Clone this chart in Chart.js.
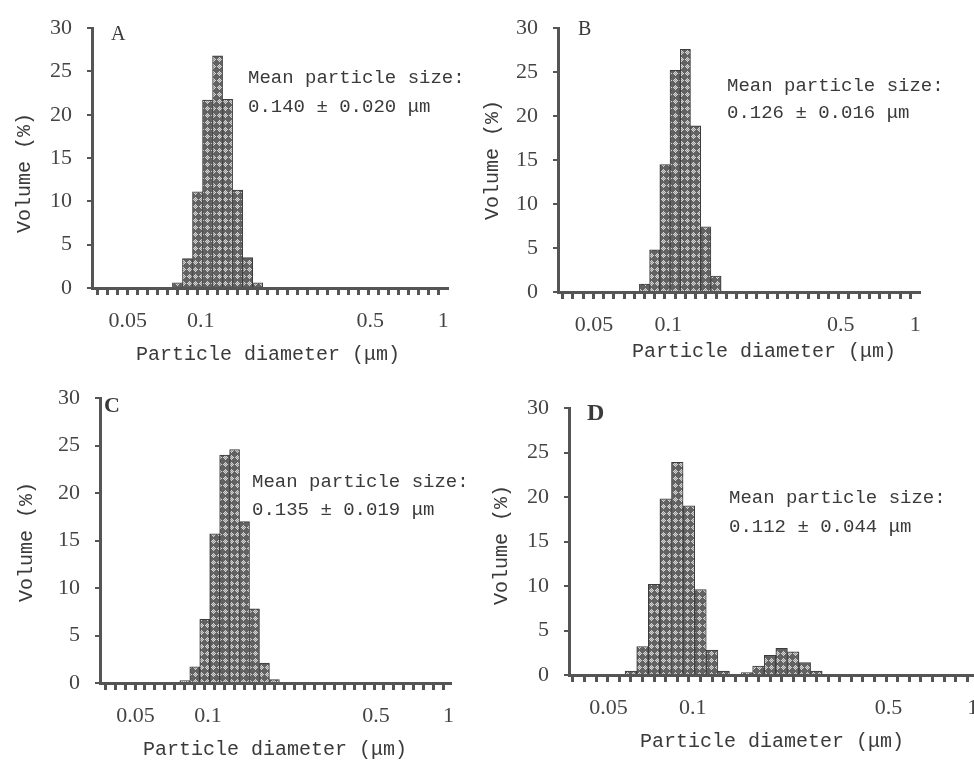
<!DOCTYPE html>
<html>
<head>
<meta charset="utf-8">
<script src="https://cdn.jsdelivr.net/npm/chart.js@4.4.1/dist/chart.umd.min.js"></script>
<style>
  html, body { margin: 0; padding: 0; background: #fff; overflow: hidden; width: 974px; height: 763px; }
  canvas { position: absolute; }
</style>
</head>
<body>
<canvas id="chartA" width="480" height="370" style="left:0;top:0"></canvas>
<canvas id="chartB" width="494" height="370" style="left:480px;top:0"></canvas>
<canvas id="chartC" width="480" height="393" style="left:0;top:370px"></canvas>
<canvas id="chartD" width="520" height="393" style="left:480px;top:370px"></canvas>
<script>
// bin centres of the size classes (um)
const binCenters = [0.06018, 0.06620, 0.07282, 0.0801, 0.08811, 0.09692, 0.10661, 0.11727,
                    0.12900, 0.14190, 0.15609, 0.17170, 0.18887, 0.20776, 0.22853, 0.25139, 0.27653];

// volume (%) per bin
const volA = [0, 0, 0, 0.6, 3.4, 11.1, 21.7, 26.8, 21.8, 11.3, 3.5, 0.6, 0, 0, 0, 0, 0];
const volB = [0, 0, 0, 0.9, 4.8, 14.5, 25.2, 27.6, 18.9, 7.4, 1.8, 0, 0, 0, 0, 0, 0];
const volC = [0, 0, 0, 0.25, 1.7, 6.7, 15.7, 24.0, 24.6, 17.0, 7.8, 2.1, 0.35, 0, 0, 0, 0];
const volD = [0.45, 3.2, 10.2, 19.8, 23.9, 19.0, 9.6, 2.8, 0.45, 0, 0.26, 1.0, 2.2, 3.0, 2.6, 1.4, 0.45];

const xTickLabels = [0.05, 0.1, 0.5, 1];
const yTickStep = 5;
const yMax = 30;

const letters = ['A', 'B', 'C', 'D'];
const meanText = ['0.140 ± 0.020 μm', '0.126 ± 0.016 μm', '0.135 ± 0.019 μm', '0.112 ± 0.044 μm'];
const meanLabel = 'Mean particle size:';
const xTitle = 'Particle diameter (μm)';
const yTitle = 'Volume (%)';

const INK = '#444';

// fill pattern of the bars: light diamonds on dark grey
function makePattern() {
  const c = document.createElement('canvas');
  c.width = 6; c.height = 7;
  const g = c.getContext('2d');
  g.fillStyle = '#626262';
  g.fillRect(0, 0, 6, 7);
  g.fillStyle = '#d4d4d4';
  [[3,1],[2,2],[4,2],[1,3],[5,3],[2,4],[4,4],[3,5],[3,3]].forEach(p => g.fillRect(p[0], p[1], 1, 1));
  g.fillStyle = '#9a9a9a';
  [[3,2],[2,3],[4,3],[3,4]].forEach(p => g.fillRect(p[0], p[1], 1, 1));
  return g.createPattern(c, 'repeat');
}
const hatch = makePattern();

const textPlugin = {
  id: 'panelText',
  afterDraw(chart, args, o) {
    const ctx = chart.ctx;
    ctx.save();
    ctx.fillStyle = '#3a3a3a';
    ctx.textBaseline = 'alphabetic';
    ctx.textAlign = 'left';
    ctx.font = o.letterFont;
    ctx.fillText(o.letter, o.letterX, o.letterY);
    ctx.font = '19px "Liberation Mono", monospace';
    ctx.fillText(meanLabel, o.noteX, o.noteY1);
    ctx.fillText(o.mean, o.noteX, o.noteY2);
    ctx.font = '20px "Liberation Mono", monospace';
    ctx.textAlign = 'center';
    ctx.textBaseline = 'middle';
    ctx.fillText(xTitle, o.xtX, o.xtY);
    ctx.translate(o.ytX, o.ytY);
    ctx.rotate(-Math.PI / 2);
    ctx.fillText(yTitle, 0, 0);
    ctx.restore();
  }
};

const panels = [
  { id: 'chartA', values: volA, xmin: 0.03557, xmax: 1.037,
    pad: { left: 47, right: 33, top: 25, bottom: 29 },
    letterFont: '20px "Liberation Serif", serif', letterX: 111, letterY: 40,
    noteX: 248, noteY1: 83, noteY2: 112, xtX: 268, xtY: 355, ytX: 25, ytY: 173 },
  { id: 'chartB', values: volB, xmin: 0.03575, xmax: 1.0365,
    pad: { left: 33, right: 55, top: 23, bottom: 25 },
    letterFont: '20px "Liberation Serif", serif', letterX: 98, letterY: 35,
    noteX: 247, noteY1: 91, noteY2: 118, xtX: 284, xtY: 352, ytX: 13, ytY: 160 },
  { id: 'chartC', values: volC, xmin: 0.03556, xmax: 1.0145,
    pad: { left: 55, right: 30, top: 24, bottom: 27 },
    letterFont: 'bold 22px "Liberation Serif", serif', letterX: 104, letterY: 42,
    noteX: 252, noteY1: 117, noteY2: 145, xtX: 275, xtY: 380, ytX: 27, ytY: 172 },
  { id: 'chartD', values: volD, xmin: 0.03617, xmax: 1.191,
    pad: { left: 44, right: 6, top: 38, bottom: 35 },
    letterFont: 'bold 24px "Liberation Serif", serif', letterX: 107, letterY: 50,
    noteX: 249, noteY1: 133, noteY2: 162, xtX: 292, xtY: 372, ytX: 22, ytY: 175 }
];

panels.forEach((p, i) => {
  new Chart(document.getElementById(p.id), {
    type: 'bar',
    data: {
      datasets: [{
        data: binCenters.map((c, k) => ({ x: c, y: p.values[k] })),
        backgroundColor: hatch,
        borderColor: '#3c3c3c',
        borderWidth: 1,
        borderSkipped: 'bottom',
        barPercentage: 1,
        categoryPercentage: 1,
        xAxisID: 'x'
      }]
    },
    options: {
      responsive: false,
      animation: false,
      devicePixelRatio: 1,
      layout: { padding: p.pad },
      plugins: {
        legend: { display: false },
        tooltip: { enabled: false },
        panelText: Object.assign({ letter: letters[i], mean: meanText[i] }, p)
      },
      scales: {
        xm: {
          type: 'logarithmic',
          position: 'bottom',
          weight: 0,
          min: p.xmin, max: p.xmax,
          border: { display: true, width: 3, color: '#555' },
          grid: { drawOnChartArea: false, drawTicks: true, tickLength: 7, lineWidth: 3, color: '#555' },
          ticks: { display: false },
          afterBuildTicks: (s) => {
            const r = binCenters[1] / binCenters[0];
            let v = binCenters[0] / Math.sqrt(r);
            while (v / r > s.min) v /= r;
            const t = [];
            for (; v <= s.max; v *= r) t.push({ value: v });
            s.ticks = t;
          },
          afterFit: (s) => { s.height = 8; }
        },
        x: {
          type: 'logarithmic',
          position: 'bottom',
          weight: 1,
          min: p.xmin, max: p.xmax,
          border: { display: false },
          grid: { display: false },
          ticks: {
            autoSkip: false, maxRotation: 0, padding: 4,
            color: INK,
            font: { family: '"Liberation Serif", serif', size: 22 },
            callback: (v) => String(v)
          },
          afterBuildTicks: (s) => { s.ticks = xTickLabels.map(v => ({ value: v })); },
          afterFit: (s) => { s.height = 45; }
        },
        y: {
          min: 0, max: yMax,
          border: { display: true, width: 3, color: '#555' },
          grid: { drawOnChartArea: false, drawTicks: true, tickLength: 5, lineWidth: 2, color: '#555' },
          ticks: {
            stepSize: yTickStep, padding: 15, color: INK,
            font: { family: '"Liberation Serif", serif', size: 22 }
          },
          afterFit: (s) => { s.width = 45; }
        }
      }
    },
    plugins: [textPlugin]
  });
});
</script>
</body>
</html>
